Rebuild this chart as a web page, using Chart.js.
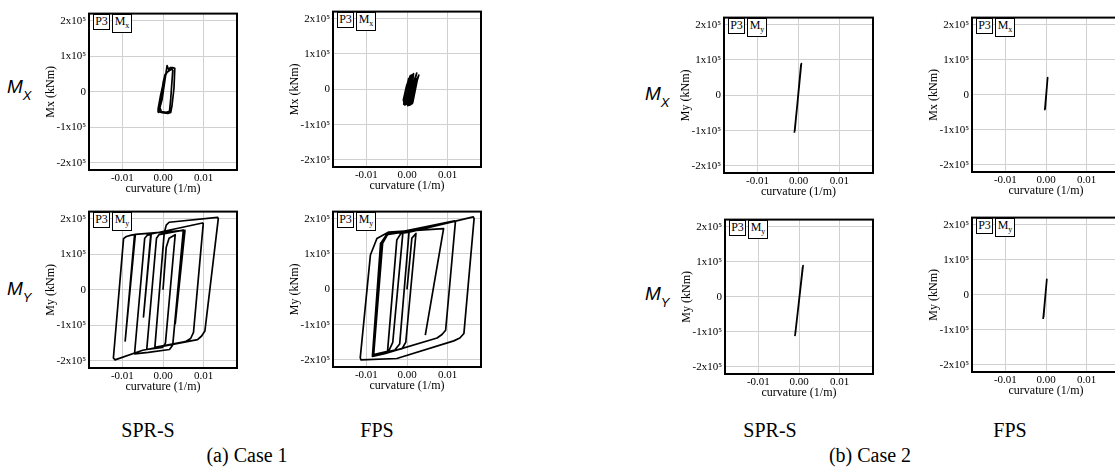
<!DOCTYPE html>
<html>
<head>
<meta charset="utf-8">
<script src="https://cdn.jsdelivr.net/npm/chart.js@4.4.1/dist/chart.umd.min.js"></script>
<style>
html, body { margin: 0; padding: 0; background: #fff; width: 1115px; height: 469px; overflow: hidden; position: relative; }
.panel { position: absolute; }
.tag { position: absolute; box-sizing: border-box; border: 1.5px solid #000; background: #fff; font-family: 'Liberation Serif', 'Times New Roman', serif; font-size: 12px; line-height: 13px; text-align: center; }
.tag sub { font-size: 8px; vertical-align: -3px; line-height: 0; }
.rowlabel { position: absolute; font-family: 'Liberation Sans', Arial, sans-serif; font-style: italic; font-size: 19px; line-height: 19px; white-space: nowrap; }
.rowlabel span { font-size: 13px; position: relative; top: 7px; }
.caption { position: absolute; font-family: 'Liberation Serif', 'Times New Roman', serif; font-size: 20px; line-height: 20px; white-space: nowrap; transform: translateX(-50%); }
</style>
</head>
<body>
<script>
// axes
const xTicks = [-0.01, 0, 0.01];
const xTickLabels = ['-0.01', '0.00', '0.01'];
const yTicks = [-200000, -100000, 0, 100000, 200000];
const yTickLabels = ['-2x10⁵', '-1x10⁵', '0', '1x10⁵', '2x10⁵'];
const xRange = [-0.0182, 0.0182];
const yRange = [-220000, 220000];

// Case 1, Mx, SPR-S
const c1MxSprX = [0, 0.0005, -0.0003, -0.0010, -0.0004, 0.0005, 0.0001, -0.0008, -0.0012, -0.0005, 0.0006, 0.0004, -0.0006, -0.0011, -0.0002, 0.0008, 0.0010, 0.0014, 0.0018, 0.0024, 0.0029, 0.0027, 0.0022, 0.0019, 0.0012, -0.0002, -0.0010, -0.0012, -0.0006, 0.0004, 0.0010, 0.0016, 0.0022, 0.0024, 0.0019, 0.0016, 0.0008, -0.0004, -0.0009, -0.0003, 0.0005];
const c1MxSprY = [0, 35000, -15000, -45000, -5000, 48000, 30000, -35000, -55000, -25000, 50000, 45000, -30000, -58000, -20000, 58000, 74000, 62000, 68000, 68000, 66000, 10000, -40000, -58000, -61000, -59000, -56000, -48000, -10000, 40000, 55000, 60000, 64000, 60000, -20000, -55000, -58000, -56000, -40000, 5000, 45000];

// Case 1, My, SPR-S
const c1MySprX = [0, 0.0008, 0.0015, 0.0030, 0.0006, -0.0001, -0.0040, -0.0016, -0.0010, 0.0050, 0.0024, 0.0016, -0.0036, -0.0070, -0.0045, -0.0038, -0.0030, -0.0048, -0.0029, 0.0097, 0.0099, 0.0075, 0.0068, 0.0055, -0.0020, 0.0003, 0.0008, 0.0015, 0.0134, 0.0136, 0.0103, 0.0095, 0.0085, -0.0050, -0.0118, -0.0122, -0.0097, -0.0090, -0.0078, -0.0070, -0.0093, -0.0068, 0.0054, 0.0030];
const c1MySprY = [0, 120000, 145000, 155000, -150000, -162000, -168000, 145000, 155000, 168000, -155000, -168000, -176000, -180000, 145000, 154000, 156000, -76000, 157000, 188000, 186000, -120000, -137000, -146000, -162000, 160000, 182000, 190000, 204000, 200000, -116000, -130000, -140000, -170000, -197000, -192000, 144000, 150000, 154000, 155000, -144000, 156000, 167000, -97000];

// Case 1, Mx, FPS
const c1MxFpsX = [0, 0.0004, -0.0002, -0.0008, -0.0002, 0.0006, 0.0010, 0.0003, -0.0004, 0.0002, 0.0012, 0.0016, 0.0008, 0.0002, 0.0009, 0.0019, 0.0024, 0.0015, 0.0009, 0.0014, 0.0025, 0.0029, 0.0022, 0.0012, 0.0006, 0.0013, 0.0022, 0.0017, 0.0004, -0.0006, -0.0009, -0.0001, 0.0008, 0.0016, 0.0011];
const c1MxFpsY = [0, 30000, 0, -42000, -30000, 25000, 40000, -20000, -44000, -35000, 38000, 44000, -10000, -46000, -38000, 30000, 46000, 5000, -40000, -38000, 25000, 40000, 20000, -30000, -45000, -40000, 30000, 20000, -40000, -44000, -30000, 10000, 38000, 42000, 0];

// Case 1, My, FPS
const c1MyFpsX = [0, 0.0012, 0.0022, -0.0003, -0.0012, -0.0048, -0.0025, -0.0015, 0.0005, -0.0018, -0.0030, -0.0085, -0.0062, -0.0050, -0.0010, -0.0035, -0.0045, -0.0082, -0.0060, -0.0048, 0.0117, 0.0119, 0.0095, 0.0086, 0.0074, -0.0055, -0.0085, -0.0065, -0.0045, 0.0005, 0.0163, 0.0165, 0.0140, 0.0130, 0.0115, -0.0025, -0.0113, -0.0115, -0.0090, -0.0074, -0.0045, 0.0090, 0.0045];
const c1MyFpsY = [0, 145000, 158000, -150000, -168000, -178000, 140000, 158000, 162000, -155000, -172000, -188000, 135000, 155000, 162000, -150000, -175000, -185000, 130000, 155000, 194000, 190000, -116000, -128000, -138000, -182000, -190000, 130000, 158000, 162000, 205000, 200000, -125000, -138000, -146000, -196000, -200000, -194000, 97000, 144000, 162000, 172000, -130000];

// Case 2, top row SPR-S (My)
const c2TopSprX = [-0.0010, 0.0007, -0.0009, 0.0006];
const c2TopSprY = [-106000, 90000, -100000, 86000];

// Case 2, top row FPS (Mx)
const c2TopFpsX = [-0.0003, 0.0004, -0.0002];
const c2TopFpsY = [-44000, 49000, -40000];

// Case 2, bottom row SPR-S (My)
const c2BotSprX = [-0.0010, 0.0010, -0.0009, 0.0009];
const c2BotSprY = [-112000, 89000, -105000, 85000];

// Case 2, bottom row FPS (My)
const c2BotFpsX = [-0.0007, 0.0002, -0.0006];
const c2BotFpsY = [-69000, 44000, -64000];

const AXIS_W = 50, AXIS_H = 28, PAD_T = 6, PAD_R = 6;
const tickFont = { family: "'Liberation Serif', 'Times New Roman', serif", size: 11 };
const titleFont = { family: "'Liberation Serif', 'Times New Roman', serif", size: 12 };

const framePlugin = {
    id: 'frame',
    afterDraw(chart) {
        const { ctx, chartArea: a } = chart;
        ctx.save();
        ctx.strokeStyle = '#000';
        ctx.lineWidth = 2;
        ctx.strokeRect(a.left, a.top, a.right - a.left, a.bottom - a.top);
        ctx.restore();
    }
};

function makePanel(p) {
    const cw = AXIS_W + p.w + PAD_R;
    const ch = PAD_T + p.h + AXIS_H;
    const wrap = document.createElement('div');
    wrap.className = 'panel';
    wrap.style.left = (p.left - AXIS_W) + 'px';
    wrap.style.top = (p.top - PAD_T) + 'px';
    const canvas = document.createElement('canvas');
    canvas.width = cw;
    canvas.height = ch;
    canvas.style.width = cw + 'px';
    canvas.style.height = ch + 'px';
    wrap.appendChild(canvas);
    document.body.appendChild(wrap);

    new Chart(canvas, {
        type: 'scatter',
        data: {
            datasets: [{
                data: p.xs.map((x, i) => ({ x: x, y: p.ys[i] })),
                showLine: true,
                borderColor: '#000',
                borderWidth: 1.7,
                borderJoinStyle: 'round',
                pointRadius: 0,
                tension: 0,
                fill: false
            }]
        },
        options: {
            responsive: false,
            animation: false,
            events: [],
            layout: { padding: { top: PAD_T, right: PAD_R, left: 0, bottom: 0 } },
            plugins: { legend: { display: false }, tooltip: { enabled: false } },
            scales: {
                x: {
                    type: 'linear',
                    min: xRange[0],
                    max: xRange[1],
                    afterBuildTicks: s => { s.ticks = xTicks.map(v => ({ value: v })); },
                    afterFit: s => { s.height = AXIS_H; },
                    grid: { color: '#d0d0d0', drawTicks: false },
                    border: { display: false },
                    ticks: {
                        font: tickFont, color: '#000', padding: 2, maxRotation: 0, autoSkip: false,
                        callback: v => xTickLabels[xTicks.indexOf(v)]
                    },
                    title: { display: true, text: 'curvature (1/m)', font: titleFont, color: '#000', padding: { top: 0, bottom: 2 } }
                },
                y: {
                    type: 'linear',
                    min: yRange[0],
                    max: yRange[1],
                    afterBuildTicks: s => { s.ticks = yTicks.map(v => ({ value: v })); },
                    afterFit: s => { s.width = AXIS_W; },
                    grid: { color: '#d0d0d0', drawTicks: false },
                    border: { display: false },
                    ticks: {
                        font: tickFont, color: '#000', padding: 3, autoSkip: false,
                        callback: v => yTickLabels[yTicks.indexOf(v)]
                    },
                    title: { display: true, text: p.yTitle, font: titleFont, color: '#000', padding: { top: 5, bottom: 0 } }
                }
            }
        },
        plugins: [framePlugin]
    });

    // P3 / component tags in the corner
    const t1 = document.createElement('div');
    t1.className = 'tag';
    t1.style.left = (p.left + 4) + 'px';
    t1.style.top = (p.top + 4) + 'px';
    t1.style.width = '17px';
    t1.style.height = '16px';
    t1.textContent = 'P3';
    document.body.appendChild(t1);
    const t2 = document.createElement('div');
    t2.className = 'tag';
    t2.style.left = (p.left + 23) + 'px';
    t2.style.top = (p.top + 4) + 'px';
    t2.style.width = '20px';
    t2.style.height = '19px';
    t2.innerHTML = 'M<sub>' + p.comp + '</sub>';
    document.body.appendChild(t2);
}

const panels = [
    { left: 89, top: 10, w: 148, h: 160, yTitle: 'Mx (kNm)', comp: 'x', xs: c1MxSprX, ys: c1MxSprY },
    { left: 89, top: 208, w: 148, h: 160, yTitle: 'My (kNm)', comp: 'y', xs: c1MySprX, ys: c1MySprY },
    { left: 333, top: 8, w: 148, h: 159, yTitle: 'Mx (kNm)', comp: 'x', xs: c1MxFpsX, ys: c1MxFpsY },
    { left: 333, top: 208, w: 148, h: 159, yTitle: 'My (kNm)', comp: 'y', xs: c1MyFpsX, ys: c1MyFpsY },
    { left: 724, top: 14, w: 149, h: 159, yTitle: 'My (kNm)', comp: 'y', xs: c2TopSprX, ys: c2TopSprY },
    { left: 972, top: 14, w: 148, h: 158, yTitle: 'Mx (kNm)', comp: 'x', xs: c2TopFpsX, ys: c2TopFpsY },
    { left: 725, top: 216, w: 148, h: 158, yTitle: 'My (kNm)', comp: 'y', xs: c2BotSprX, ys: c2BotSprY },
    { left: 972, top: 214, w: 148, h: 158, yTitle: 'My (kNm)', comp: 'y', xs: c2BotFpsX, ys: c2BotFpsY }
];
panels.forEach(makePanel);

// row labels and captions
function addText(cls, html, left, top) {
    const d = document.createElement('div');
    d.className = cls;
    d.style.left = left + 'px';
    d.style.top = top + 'px';
    d.innerHTML = html;
    document.body.appendChild(d);
}
addText('rowlabel', 'M<span>X</span>', 7, 77);
addText('rowlabel', 'M<span>Y</span>', 7, 279);
addText('rowlabel', 'M<span>X</span>', 645, 84);
addText('rowlabel', 'M<span>Y</span>', 645, 284);

addText('caption', 'SPR-S', 148, 420);
addText('caption', 'FPS', 377, 420);
addText('caption', '(a) Case 1', 247, 445);
addText('caption', 'SPR-S', 770, 420);
addText('caption', 'FPS', 1010, 420);
addText('caption', '(b) Case 2', 870, 445);
</script>
</body>
</html>
